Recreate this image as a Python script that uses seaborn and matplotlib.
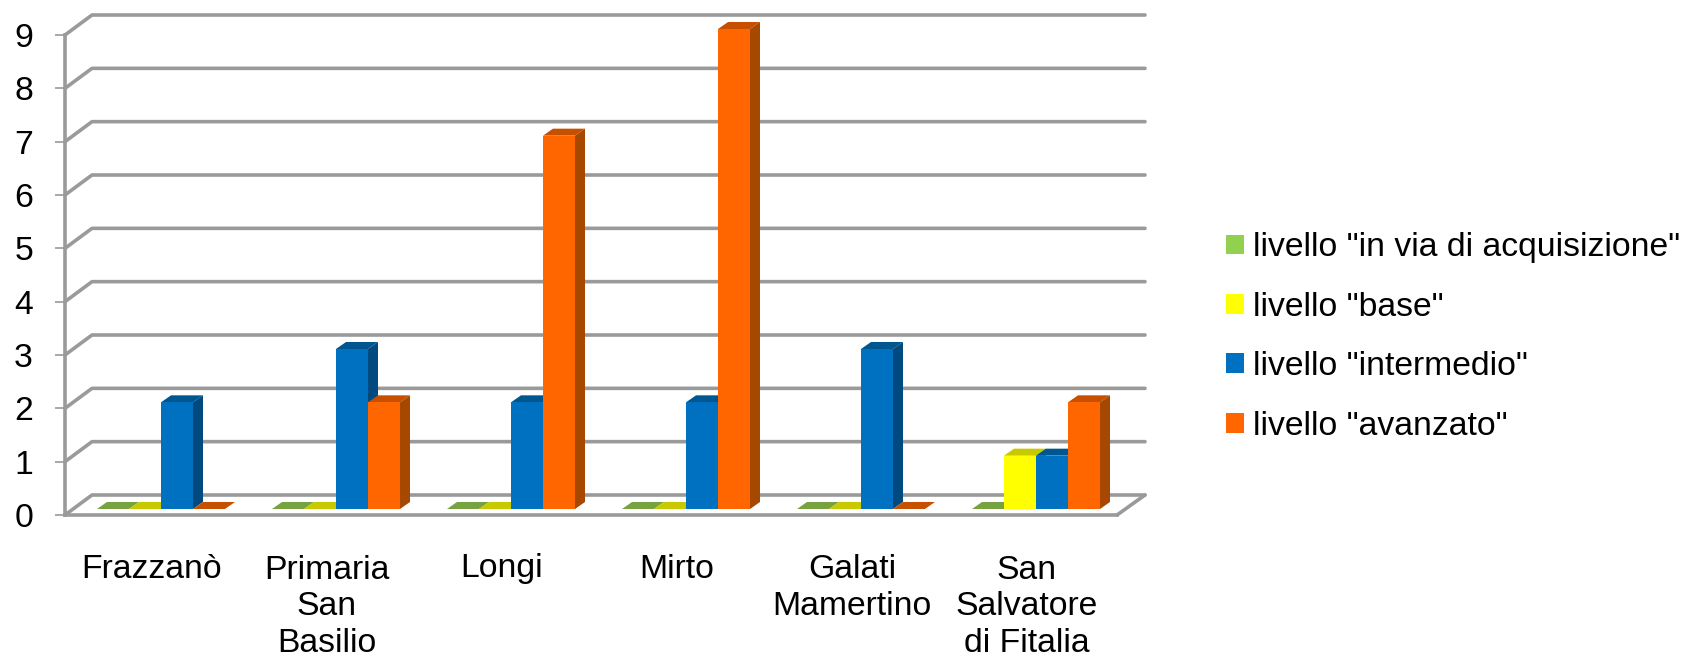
import matplotlib
matplotlib.use("Agg")
import matplotlib.pyplot as plt
import pandas as pd
import seaborn as sns
from matplotlib.patches import Polygon
from matplotlib.transforms import Affine2D

# Data
scuole = ["Frazzanò", "Primaria\nSan\nBasilio", "Longi", "Mirto", "Galati\nMamertino", "San\nSalvatore\ndi Fitalia"]
livelli = ['livello "in via di acquisizione"', 'livello "base"', 'livello "intermedio"', 'livello "avanzato"']
acquisizione = [0, 0, 0, 0, 0, 0]
base = [0, 0, 0, 0, 0, 1]
intermedio = [2, 3, 2, 2, 3, 1]
avanzato = [0, 2, 7, 9, 0, 2]

colori = ["#92d050", "#ffff00", "#0070c0", "#ff6600"]
colori_top = ["#76a33f", "#c9c900", "#00568f", "#c65000"]
colori_lato = ["#5f8a34", "#a3a300", "#004a80", "#a64800"]
grigio = "#9a9a9a"

rows = []
for i, s in enumerate(scuole):
    for liv, vals in zip(livelli, [acquisizione, base, intermedio, avanzato]):
        rows.append({"scuola": s, "livello": liv, "valore": vals[i]})
df = pd.DataFrame(rows)

sns.set_theme(style="white")
plt.rcParams["font.family"] = ["Liberation Sans", "DejaVu Sans"]

W, H = 1684, 660
fig = plt.figure(figsize=(W / 100, H / 100), dpi=100)
ax = fig.add_axes([65 / W, (H - 515) / H, 1052 / W, 480 / H])

sns.barplot(data=df, x="scuola", y="valore", hue="livello", order=scuole, hue_order=livelli,
            palette=colori, width=128 / 175, gap=0, saturation=1, linewidth=0, ax=ax)

ax.set_xlim((65 - 152) / 175, (1117 - 152) / 175)
ax.set_ylim(0, 9)
ax.set_xlabel("")
ax.set_ylabel("")

# pixel sizes of the fake 3d, as data units
px = 1 / 175
py = 9 / 480
xmin, xmax = ax.get_xlim()

# back wall grid
for v in range(10):
    ax.plot([xmin, xmin + 27 * px, xmax + 28 * px], [v, v + 20 * py, v + 20 * py],
            color=grigio, lw=2.6, zorder=1, clip_on=False, solid_joinstyle="round")
ax.plot([xmax, xmax + 28 * px], [0, 20 * py], color=grigio, lw=2.6, zorder=1, clip_on=False)

# bars: move onto the floor and add top and side faces
sx, sy = 9 * px, 6 * py
dx, dy = 10 * px, 7 * py
for h, cont in enumerate(ax.containers):
    for c, bar in enumerate(cont):
        z = 3 + c + h * 0.1
        bar.set_x(bar.get_x() + sx)
        bar.set_y(sy)
        bar.set_clip_on(False)
        bar.set_zorder(z + 0.05)
        x0 = bar.get_x()
        x1 = x0 + bar.get_width()
        y1 = sy + bar.get_height()
        ax.add_patch(Polygon([(x0, y1), (x1, y1), (x1 + dx, y1 + dy), (x0 + dx, y1 + dy)],
                             fc=colori_top[h], ec="none", zorder=z, clip_on=False))
        if bar.get_height() > 0:
            ax.add_patch(Polygon([(x1, sy), (x1 + dx, sy + dy), (x1 + dx, y1 + dy), (x1, y1)],
                                 fc=colori_lato[h], ec="none", zorder=z, clip_on=False))

# axes
sns.despine(ax=ax, top=True, right=True)
for side in ["left", "bottom"]:
    ax.spines[side].set_color(grigio)
    ax.spines[side].set_linewidth(2.6)
    ax.spines[side].set_zorder(2)
ax.set_yticks(range(10))
ax.tick_params(axis="y", length=7, width=1.2, color=grigio, pad=16, labelsize=24.3, labelcolor="black", left=True)
ax.tick_params(axis="x", length=0, pad=45, labelsize=24.3, labelcolor="black")
# baseline aligns on the last line, so push longer labels down by their extra lines
for t in ax.get_xticklabels():
    t.set_linespacing(1.24)
    t.set_verticalalignment("baseline")
    extra = t.get_text().count("\n")
    t.set_transform(t.get_transform() + Affine2D().translate(0, -37.3 * extra))

sns.move_legend(ax, "center left", bbox_to_anchor=(1226 / W, (H - 337) / H), bbox_transform=fig.transFigure,
                title=None, frameon=False, fontsize=24.3, handlelength=0.53, handleheight=0.53,
                handletextpad=0.27, labelspacing=0.84, borderpad=0, borderaxespad=0, labelcolor="black")

fig.savefig("out.png", dpi=100, facecolor="white")
